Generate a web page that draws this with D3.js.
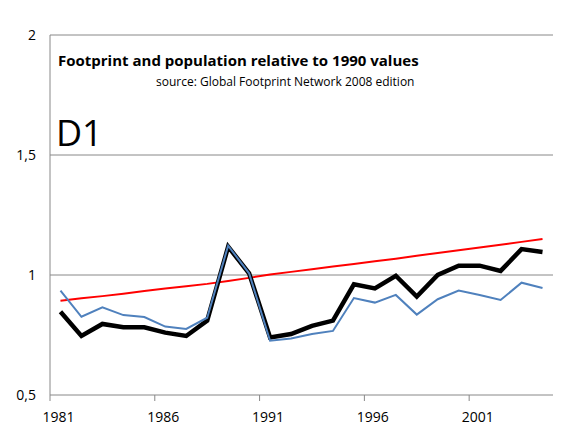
<!DOCTYPE html>
<html>
<head>
<meta charset="utf-8">
<script src="https://cdn.jsdelivr.net/npm/d3@7"></script>
<style>
  body { margin: 0; background: #fff; }
  text { font-family: "Open Sans", "Liberation Sans", sans-serif; }
</style>
</head>
<body>
<div id="chart"></div>
<script>
// Data
const years = d3.range(1981, 2005);
const population = [0.893, 0.903, 0.912, 0.922, 0.933, 0.944, 0.953, 0.963, 0.975, 0.988, 1.002, 1.013, 1.024, 1.035, 1.046, 1.057, 1.068, 1.08, 1.092, 1.103, 1.115, 1.126, 1.138, 1.15];
const footprint = [0.847, 0.746, 0.796, 0.782, 0.782, 0.76, 0.746, 0.81, 1.118, 1.007, 0.74, 0.754, 0.788, 0.81, 0.961, 0.944, 0.997, 0.91, 1.0, 1.039, 1.039, 1.017, 1.108, 1.096];
const perCapita = [0.935, 0.826, 0.865, 0.833, 0.825, 0.785, 0.775, 0.822, 1.122, 1.007, 0.726, 0.735, 0.754, 0.767, 0.904, 0.885, 0.917, 0.835, 0.899, 0.935, 0.917, 0.896, 0.968, 0.946];
const yTicks = [0.5, 1, 1.5, 2];
const labelYears = [1981, 1986, 1991, 1996, 2001];

const width = 561, height = 440;
const plotLeft = 50, plotRight = 553, plotTop = 35, plotBottom = 395;

const svg = d3.select('#chart').append('svg')
    .attr('width', width)
    .attr('height', height);

// Category scale: each year takes a band, ticks on band edges
const x = d3.scaleBand().domain(years).range([plotLeft, plotRight]);
const y = d3.scaleLinear().domain([0.5, 2]).range([plotBottom, plotTop]);
const cx = d => x(d) + x.bandwidth() / 2;

// Gridlines
svg.selectAll('.grid')
    .data(yTicks.slice(1))
    .enter()
    .append('line')
    .attr('x1', plotLeft).attr('x2', plotRight)
    .attr('y1', d => y(d)).attr('y2', d => y(d))
    .attr('stroke', '#888').attr('stroke-width', 1);

// Axes
svg.append('line')
    .attr('x1', plotLeft).attr('x2', plotLeft).attr('y1', plotTop).attr('y2', plotBottom)
    .attr('stroke', '#888');
svg.append('line')
    .attr('x1', plotLeft).attr('x2', plotRight).attr('y1', plotBottom).attr('y2', plotBottom)
    .attr('stroke', '#888');

svg.selectAll('.ytick')
    .data(yTicks)
    .enter()
    .append('text')
    .attr('x', 36)
    .attr('y', d => y(d))
    .attr('dy', '0.35em')
    .attr('text-anchor', 'end')
    .attr('font-size', '14px')
    .text(d => String(d).replace('.', ','));

// x ticks every 5 categories on band edges
svg.selectAll('.xtick')
    .data(labelYears)
    .enter()
    .append('line')
    .attr('x1', d => x(d)).attr('x2', d => x(d))
    .attr('y1', plotBottom).attr('y2', plotBottom + 6)
    .attr('stroke', '#888');

svg.selectAll('.xlabel')
    .data(labelYears)
    .enter()
    .append('text')
    .attr('x', d => cx(d) - 2)
    .attr('y', plotBottom + 27)
    .attr('text-anchor', 'middle')
    .attr('font-size', '14px')
    .text(d => d);

// Lines
const line = d3.line().x((d, i) => cx(years[i])).y(d => y(d));

svg.append('path').datum(population)
    .attr('d', line).attr('fill', 'none')
    .attr('stroke', '#ff0000').attr('stroke-width', 2);

svg.append('path').datum(footprint)
    .attr('d', line).attr('fill', 'none')
    .attr('stroke', '#000').attr('stroke-width', 4.5);

svg.append('path').datum(perCapita)
    .attr('d', line).attr('fill', 'none')
    .attr('stroke', '#4f81bd').attr('stroke-width', 2);

// Titles
svg.append('text')
    .attr('x', 58).attr('y', 66)
    .attr('font-size', '15px').attr('font-weight', 'bold')
    .text('Footprint and population relative to 1990 values');
svg.append('text')
    .attr('x', 156).attr('y', 86)
    .attr('font-size', '12px')
    .text('source: Global Footprint Network 2008  edition');
svg.append('text')
    .attr('x', 56).attr('y', 146)
    .attr('font-size', '36px')
    .text('D1');
</script>
</body>
</html>
